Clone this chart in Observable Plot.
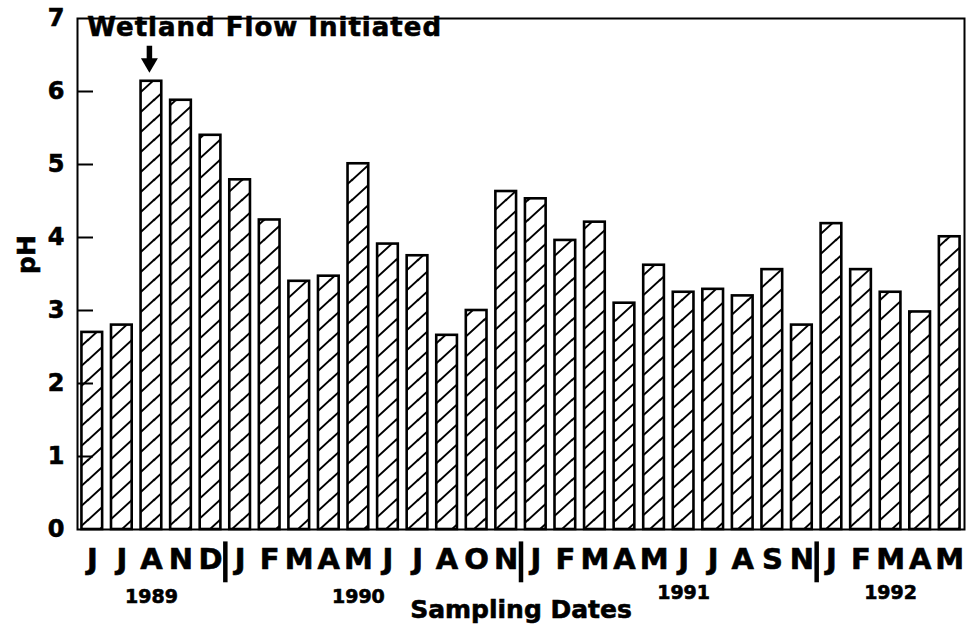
<!DOCTYPE html>
<html><head><meta charset="utf-8">
<script src="https://cdn.jsdelivr.net/npm/d3@7"></script>
<script src="https://cdn.jsdelivr.net/npm/@observablehq/plot@0.6"></script>
<style>body{margin:0;background:#fff;}</style>
</head><body><div id="chart"></div>
<script>
// ---- data ----
const months = ["J","J","A","N","D","J","F","M","A","M","J","J","A","O","N","J","F","M","A","M","J","J","A","S","N","J","F","M","A","M"];
const phValues = [2.70,2.80,6.14,5.88,5.40,4.79,4.24,3.40,3.47,5.01,3.91,3.75,2.66,3.00,4.63,4.53,3.96,4.21,3.10,3.62,3.25,3.29,3.20,3.56,2.80,4.19,3.56,3.25,2.98,4.01];
const yTicks = [0,1,2,3,4,5,6,7];
const innerTicks = [1,2,3,4,5,6];
const yearLabels = ["1989","1990","1991","1992"];
const yearAt = [2, 9, 20, 27];
const yearLevel = [-0.92, -0.92, -0.87, -0.87];
const yearBoundaries = [5, 15, 25];
const annotationText = "Wetland Flow Initiated";
const eventIndex = 2;
const xTitle = "Sampling Dates";
const yTitle = "pH";

const data = months.map((m, i) => ({i, month: m, ph: phValues[i]}));
const years = yearLabels.map((t, k) => ({t, i: yearAt[k], y: yearLevel[k]}));

// ---- layout ----
const W = 974, H = 629, mL = 77, mR = 10, mT = 18, mB = 100;
const frameW = W - mL - mR;
const step = frameW / months.length;
const font = "'DejaVu Sans', sans-serif";

const svg = Plot.plot({
  width: W, height: H,
  marginLeft: mL, marginRight: mR, marginTop: mT, marginBottom: mB,
  style: {fontFamily: font, fontWeight: "bold", color: "#000", background: "#fff", overflow: "visible"},
  x: {type: "band", domain: d3.range(months.length), paddingInner: 0.3, paddingOuter: 0.15, round: false},
  y: {domain: [0, 7]},
  marks: [
    Plot.barY(data, {x: "i", y: "ph", fill: "url(#hatch)", stroke: "#000", strokeWidth: 2.6}),
    Plot.tickY(innerTicks, {y: d => d, insetRight: frameW - 16, stroke: "#000", strokeWidth: 2}),
    Plot.frame({stroke: "#000", strokeWidth: 2}),
    Plot.axisY(yTicks, {tickSize: 0, tickPadding: 13, fontSize: 24, tickFormat: d3.format("d"), label: null}),
    Plot.axisX({tickSize: 0, tickPadding: 19, fontSize: 29, tickFormat: i => months[i], label: null}),
    Plot.ruleX(yearBoundaries, {x: d => d, dx: -step / 2, y1: -0.17, y2: -0.73, stroke: "#000", strokeWidth: 4.5}),
    Plot.text(years, {x: "i", y: "y", text: "t", fontSize: 19, fill: "#000"}),
    Plot.text([xTitle], {frameAnchor: "bottom", dy: 88, fontSize: 25, fill: "#000"}),
    Plot.text([yTitle], {frameAnchor: "left", dx: -51, rotate: -90, fontSize: 25, fill: "#000"}),
    Plot.text([annotationText], {x: 0, y: 6.87, dx: -5, textAnchor: "start", fontSize: 26, fill: "#000"}),
    Plot.ruleX([eventIndex], {x: d => d, y1: 6.62, y2: 6.41, dx: -2, stroke: "#000", strokeWidth: 5.5}),
    Plot.dot([eventIndex], {x: d => d, y: 6.39, dx: -2, symbol: "triangle", rotate: 180, r: 6.3, fill: "#000", stroke: "none"})
  ]
});

// hatch pattern
const defs = d3.select(svg).insert("defs", ":first-child");
const pat = defs.append("pattern").attr("id", "hatch").attr("patternUnits", "userSpaceOnUse")
  .attr("width", 22).attr("height", 20);
pat.append("rect").attr("width", 22).attr("height", 20).attr("fill", "#fff");
pat.append("path").attr("d", "M-4,4 L4,-3.6 M0,20 L22,0 M18,23.6 L26,16")
  .attr("stroke", "#000").attr("stroke-width", 2).attr("fill", "none");

// heavier lettering, as in the scanned original
d3.select(svg).selectAll("text").attr("stroke", "#000").attr("stroke-width", 0.6).attr("paint-order", "stroke");
d3.select(svg).selectAll("text").filter(function() { return this.textContent === annotationText; })
  .attr("letter-spacing", "1px");

document.getElementById("chart").appendChild(svg);
</script>
</body></html>
